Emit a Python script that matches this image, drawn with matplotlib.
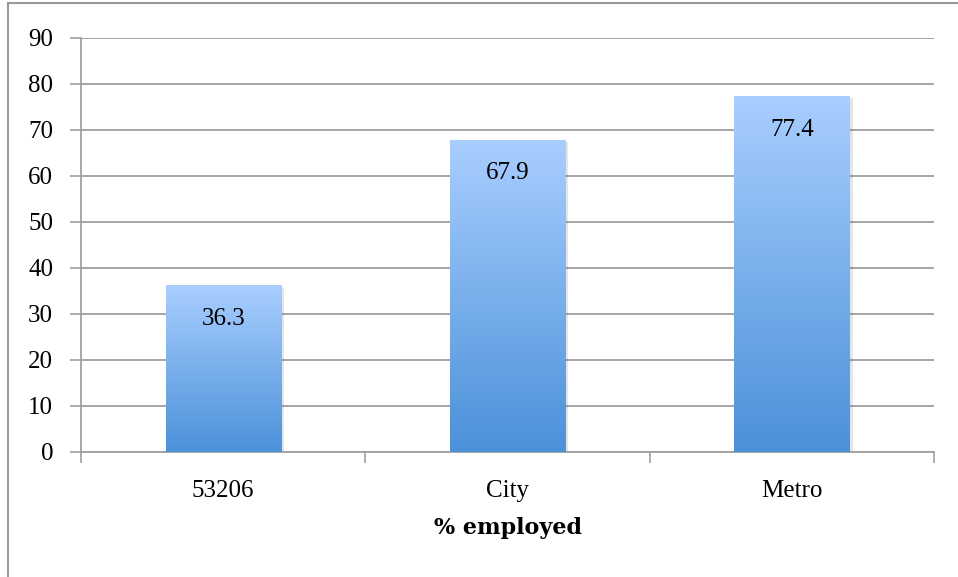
import matplotlib
matplotlib.use("Agg")
import matplotlib.pyplot as plt
import numpy as np
from matplotlib.patches import Rectangle
from matplotlib.colors import LinearSegmentedColormap

categories = ["53206", "City", "Metro"]
values = [36.3, 67.9, 77.4]
yticks = [0, 10, 20, 30, 40, 50, 60, 70, 80, 90]
xlabel = "% employed"

plt.rcParams["font.family"] = ["Liberation Serif", "DejaVu Serif"]

W, H = 958, 577
fig = plt.figure(figsize=(W / 100, H / 100), dpi=100)
ax = fig.add_axes([81 / W, 1 - 452 / H, (934 - 81) / W, (452 - 38) / H])

# figure border
fig.patches.append(Rectangle((8 / W, -0.01), 1.1, 1 - 3 / H + 0.01, transform=fig.transFigure,
                             fill=False, ec="#9a9a9a", lw=1.5, zorder=0))

cmap = LinearSegmentedColormap.from_list("bar", ["#4B91D9", "#A9CEFF"])
grad = np.linspace(0, 1, 256).reshape(-1, 1)
bw = 0.405
for i, v in enumerate(values):
    x0 = i - bw / 2
    ax.add_patch(Rectangle((x0 + 0.012, -0.3), bw, v - 0.25, fc="#000000", alpha=0.10, lw=0, zorder=2))
    im = ax.imshow(grad, cmap=cmap, origin="lower", extent=(x0, x0 + bw, 0, v),
                   aspect="auto", zorder=3)
    rect = Rectangle((x0, 0), bw, v, fc="none", lw=0, zorder=3)
    ax.add_patch(rect)
    im.set_clip_path(rect)
    ax.text(i, v - 7.3, f"{v}", ha="center", va="center", fontsize=18, zorder=4)

ax.set_xlim(-0.5, 2.5)
ax.set_ylim(0, 90)
ax.set_yticks(yticks)
ax.set_xticks(range(len(categories)))
ax.set_xticklabels(categories, fontsize=18)
ax.set_xticks([-0.5, 0.5, 1.5, 2.5], minor=True)
ax.tick_params(axis="x", which="major", length=0, pad=20)
ax.tick_params(axis="x", which="minor", length=8, width=1.2, color="#a0a0a0", direction="out")
ax.tick_params(axis="y", length=8, width=1.2, color="#a0a0a0", labelsize=18, pad=12)
ax.grid(axis="y", color="#a6a6a6", lw=1.4, zorder=1)
ax.set_axisbelow(True)
for s in ["top", "right"]:
    ax.spines[s].set_visible(False)
for s in ["left", "bottom"]:
    ax.spines[s].set_color("#a0a0a0")
    ax.spines[s].set_linewidth(1.3)
ax.set_xlabel(xlabel, fontsize=16, fontweight="bold", labelpad=11, family="DejaVu Serif")

fig.savefig("out.png", dpi=100)
